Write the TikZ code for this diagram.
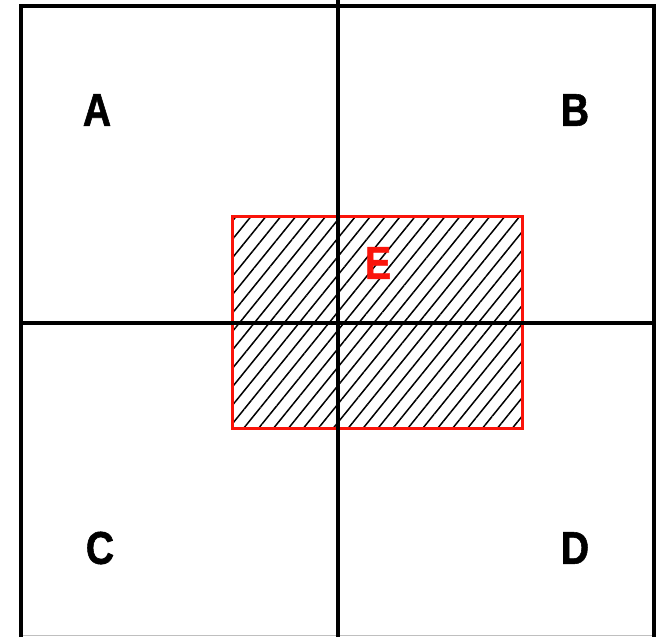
\documentclass[tikz,border=0pt]{standalone}
\usepackage{fontspec}
\setmainfont{Liberation Sans}
\newfontfamily\quadfont{Liberation Sans Bold}[FakeBold=1.2, FakeStretch=0.85]
\usetikzlibrary{patterns.meta}
\definecolor{regionred}{RGB}{250,20,10}

\tikzset{
  quad/.style={font=\fontsize{46}{46}\quadfont, inner sep=0pt},
  divider/.style={line width=3.5pt, black},
}

\begin{document}
\begin{tikzpicture}[x=1pt, y=-1pt]
  \useasboundingbox (0,0) rectangle (669,637);
  % hatched overlap region
  \fill[pattern={Lines[angle=51, distance=11.6pt, line width=1.5pt]}] (232,216) rectangle (522,428);
  % region E
  \draw[line width=3pt, regionred] (232,216) rectangle (522,428);
  % frame and cross
  \draw[line width=1pt, black!25] (21,635) -- (654,635);
  \draw[divider] (21,637) -- (21,6) -- (654,6) -- (654,637);
  \draw[divider] (338,0) -- (338,637);
  \draw[divider] (21,323) -- (654,323);
  % labels
  \node[quad] (A) at (97,110) {A};
  \node[quad] (B) at (575,110) {B};
  \node[quad] (C) at (100,548) {C};
  \node[quad] (D) at (575,548) {D};
  \node[quad, text=regionred] (E) at (378,263) {E};
\end{tikzpicture}
\end{document}
